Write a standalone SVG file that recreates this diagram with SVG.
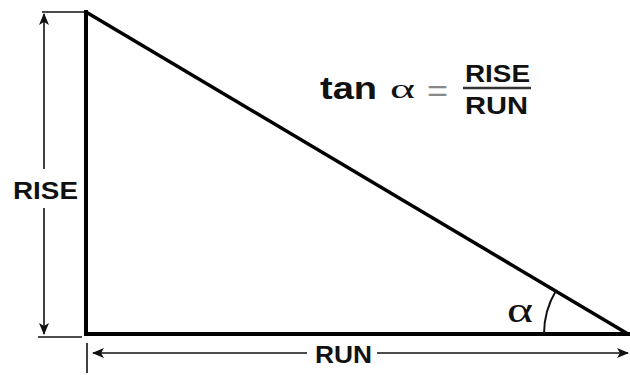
<svg xmlns="http://www.w3.org/2000/svg" width="630" height="375" viewBox="0 0 630 375">
<style>
.side{stroke:#000;stroke-width:4;fill:none;stroke-linecap:square}
.dim{stroke:#111;stroke-width:1.6;fill:none}
.lbl{font-family:"Liberation Sans",Arial,sans-serif;font-weight:bold;font-size:24px;fill:#111}
.greek{font-family:"Liberation Serif","Times New Roman",serif;fill:#111}
</style>
<defs>
<marker id="arr" viewBox="0 0 12 10" refX="11" refY="5" markerWidth="12" markerHeight="10" markerUnits="userSpaceOnUse" orient="auto-start-reverse">
<path d="M0,0 L12,5 L0,10 L3,5 Z" fill="#111"/>
</marker>
</defs>
<rect width="630" height="375" fill="#fff"/>
<g id="triangle">
<path class="side" d="M86,12 L86,334 L628,334"/>
<line x1="86" y1="12" x2="628" y2="334" stroke="#000" stroke-width="3.5"/>
</g>
<g id="angle">
<path d="M544,334 A84,84 0 0 1 555.8,291.1" stroke="#111" stroke-width="2" fill="none"/>
<text class="greek" x="507" y="322" font-size="36" textLength="26" lengthAdjust="spacingAndGlyphs">α</text>
</g>
<g id="connectors">
<line class="dim" x1="42" y1="12" x2="84" y2="12"/>
<line class="dim" x1="38" y1="337" x2="82" y2="337"/>
<line class="dim" x1="44" y1="169" x2="44" y2="14" marker-end="url(#arr)"/>
<line class="dim" x1="44" y1="208" x2="44" y2="334" marker-end="url(#arr)"/>
<line class="dim" x1="87" y1="343" x2="87" y2="373" stroke-width="2.5"/>
<line class="dim" x1="307" y1="353" x2="93" y2="353" marker-end="url(#arr)"/>
<line class="dim" x1="377" y1="353" x2="628" y2="353" marker-end="url(#arr)"/>
</g>
<g id="rise-label">
<text class="lbl" x="13" y="199" textLength="65" lengthAdjust="spacingAndGlyphs">RISE</text>
</g>
<g id="run-label">
<text class="lbl" x="315" y="363" textLength="57" lengthAdjust="spacingAndGlyphs">RUN</text>
</g>
<g id="formula">
<text x="320" y="99" font-family="'Liberation Sans',Arial,sans-serif" font-weight="bold" font-size="32" fill="#111" textLength="57" lengthAdjust="spacingAndGlyphs">tan</text>
<text class="greek" x="390" y="98" font-size="28" textLength="25" lengthAdjust="spacingAndGlyphs">α</text>
<text x="427" y="101" font-family="'Liberation Sans',Arial,sans-serif" font-size="30" fill="#888" textLength="21" lengthAdjust="spacingAndGlyphs">=</text>
<text class="lbl" x="465" y="82" textLength="65" lengthAdjust="spacingAndGlyphs">RISE</text>
<line x1="463" y1="88" x2="531" y2="88" stroke="#333" stroke-width="2.5"/>
<text class="lbl" x="465" y="114" textLength="63" lengthAdjust="spacingAndGlyphs">RUN</text>
</g>
</svg>
